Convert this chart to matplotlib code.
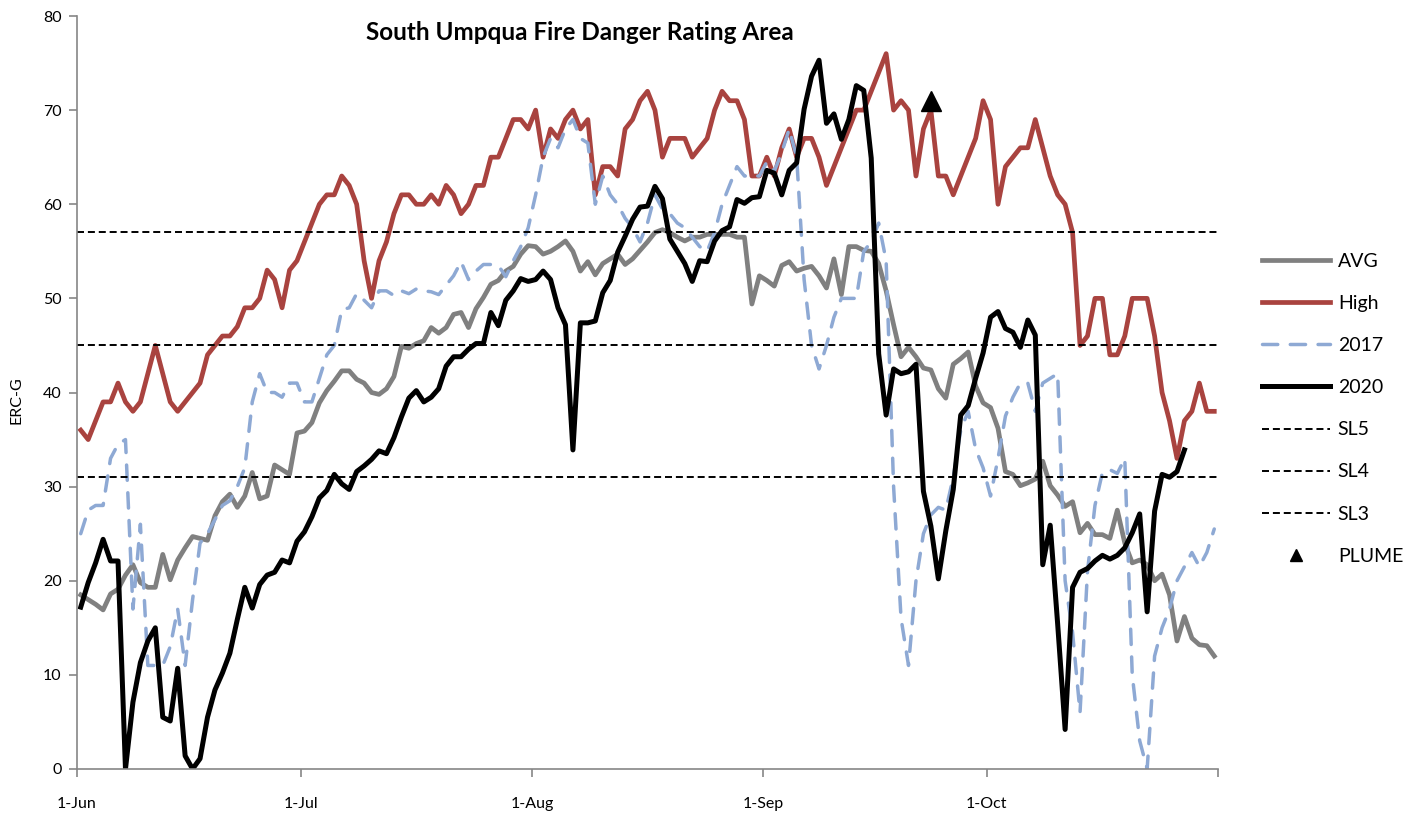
import numpy as np
import pandas as pd
import matplotlib
matplotlib.use("Agg")
import matplotlib.pyplot as plt

plt.rcParams['font.family'] = ['Lato', 'DejaVu Sans']

# daily ERC-G values, 1-Jun onward
avg = [18.5, 18, 17.5, 16.9, 18.6, 19.1, 20.6, 21.7, 19.8, 19.3,
       19.3, 22.8, 20.1, 22.2, 23.5, 24.7, 24.5, 24.3, 26.9, 28.4,
       29.2, 27.8, 29, 31.5, 28.7, 29, 32.3, 31.8, 31.3, 35.7,
       35.9, 36.8, 38.9, 40.2, 41.2, 42.3, 42.3, 41.4, 41, 40,
       39.8, 40.4, 41.7, 44.9, 44.7, 45.2, 45.5, 46.9, 46.3, 46.9,
       48.3, 48.5, 46.9, 48.9, 50.1, 51.5, 51.9, 52.9, 53.4, 54.7,
       55.6, 55.5, 54.7, 55, 55.5, 56.1, 55, 52.9, 53.9, 52.5,
       53.7, 54.2, 54.7, 53.6, 54.2, 55.1, 56, 57, 57.3, 57,
       56.5, 56.1, 56.5, 56.5, 56.8, 56.8, 56.8, 56.8, 56.5, 56.5,
       49.4, 52.4, 51.9, 51.3, 53.5, 53.9, 52.9, 53.2, 53.4, 52.4,
       51.1, 54.2, 50.4, 55.5, 55.5, 55.1, 55, 53.7, 50.8, 47.2,
       43.8, 44.8, 43.8, 42.6, 42.4, 40.4, 39.4, 43, 43.6, 44.3,
       40.7, 38.9, 38.4, 36.2, 31.6, 31.3, 30.1, 30.4, 30.8, 32.7,
       30.1, 29.1, 27.9, 28.4, 25.1, 26.1, 24.9, 24.9, 24.5, 27.5,
       24, 21.9, 22.2, 21.7, 20, 20.7, 18.5, 13.6, 16.2, 13.9,
       13.2, 13.1, 12]

high = [36, 35, 37, 39, 39, 41, 39, 38, 39, 42,
        45, 42, 39, 38, 39, 40, 41, 44, 45, 46,
        46, 47, 49, 49, 50, 53, 52, 49, 53, 54,
        56, 58, 60, 61, 61, 63, 62, 60, 54, 50,
        54, 56, 59, 61, 61, 60, 60, 61, 60, 62,
        61, 59, 60, 62, 62, 65, 65, 67, 69, 69,
        68, 70, 65, 68, 67, 69, 70, 68, 69, 61,
        64, 64, 63, 68, 69, 71, 72, 70, 65, 67,
        67, 67, 65, 66, 67, 70, 72, 71, 71, 69,
        63, 63, 65, 63, 66, 68, 65, 67, 67, 65,
        62, 64, 66, 68, 70, 70, 72, 74, 76, 70,
        71, 70, 63, 68, 70, 63, 63, 61, 63, 65,
        67, 71, 69, 60, 64, 65, 66, 66, 69, 66,
        63, 61, 60, 57, 45, 46, 50, 50, 44, 44,
        46, 50, 50, 50, 46, 40, 37, 33, 37, 38,
        41, 38, 38]

y2017 = [25, 27.5, 28, 28, 33, 34.5, 35, 17, 26, 11,
         11, 11, 13, 17, 11, 18, 24, 25, 26.5, 28,
         28.5, 30, 32, 39, 42, 40, 40, 39.5, 41, 41,
         39, 39, 41.5, 44, 45, 48.8, 49, 50.5, 49.8, 49,
         50.8, 50.8, 50.3, 50.8, 50.5, 51, 50.8, 50.7, 50.4, 51.4,
         52.4, 53.9, 52, 52.9, 53.6, 53.6, 53.5, 52.3, 54, 55.5,
         57.5, 61, 65, 67, 66, 68, 69, 67, 66.5, 60,
         63, 61, 60, 58.5, 57.5, 56, 58, 61, 59.5, 59,
         58, 57.5, 56.5, 55.5, 55, 57, 60, 62, 64, 63,
         63, 63, 64.5, 63.5, 65.5, 68, 65, 52, 45, 42.5,
         45, 48, 50, 50, 50, 55, 56, 58, 54, 30,
         16, 11, 20, 25, 27, 27.8, 27.5, 31, 36, 38,
         34, 32, 29, 33, 37.5, 39.5, 41, 41, 38, 41,
         41.5, 42, 20, 14.5, 6, 21, 28, 31.5, 31.8, 31.4,
         33, 10, 3, 0, 12, 15, 17, 20, 21.5, 23,
         21.5, 23, 25.5]

y2020 = [17.2, 19.8, 21.9, 24.4, 22.1, 22.1, 0, 7.1, 11.3, 13.6,
         15, 5.5, 5.1, 10.7, 1.4, 0, 1.1, 5.5, 8.4, 10.2,
         12.3, 15.9, 19.3, 17.1, 19.6, 20.6, 20.9, 22.2, 21.9, 24.2,
         25.2, 26.8, 28.8, 29.6, 31.3, 30.3, 29.7, 31.6, 32.2, 32.9,
         33.8, 33.5, 35.2, 37.4, 39.4, 40.2, 39, 39.5, 40.4, 42.8,
         43.8, 43.8, 44.6, 45.2, 45.2, 48.5, 47.1, 49.8, 50.8, 52.1,
         51.8, 52, 52.9, 52, 49, 47.2, 33.9, 47.4, 47.4, 47.6,
         50.6, 51.9, 54.9, 56.6, 58.4, 59.7, 59.8, 61.9, 60.6, 56.3,
         55, 53.7, 51.8, 54, 53.9, 56.1, 57.2, 57.6, 60.5, 60.1,
         60.7, 60.8, 63.6, 63.3, 61, 63.6, 64.4, 70.1, 73.6, 75.3,
         68.6, 69.6, 66.9, 69, 72.6, 72.1, 64.9, 44.1, 37.6, 42.5,
         42, 42.2, 43, 29.5, 25.8, 20.2, 25.3, 29.7, 37.6, 38.6,
         41.5, 44.2, 48, 48.6, 46.8, 46.4, 44.8, 47.7, 46.1, 21.7,
         25.9, 15.4, 4.2, 19.3, 20.9, 21.3, 22.1, 22.7, 22.3, 22.7,
         23.5, 25.1, 27.1, 16.7, 27.4, 31.3, 31, 31.6, 33.9]

staffing = {'SL5': 57, 'SL4': 45, 'SL3': 31}
plume_date = '2020-09-23'
plume_val = 71
month_labels = ['1-Jun', '1-Jul', '1-Aug', '1-Sep', '1-Oct', '']

half_day = pd.Timedelta(hours=12)
dates = (pd.date_range('2020-06-01', periods=len(avg), freq='D') + half_day).to_numpy()
dates20 = (pd.date_range('2020-06-01', periods=len(y2020), freq='D') + half_day).to_numpy()

fig = plt.figure(figsize=(14.14, 8.23), dpi=100)
ax = fig.add_axes([77/1414, 1-769/823, (1218-77)/1414, (769-16)/823])

ax.plot(dates, avg, color='#808080', lw=3.4, label='AVG', solid_joinstyle='round')
ax.plot(dates, high, color='#A9433F', lw=3.4, label='High', solid_joinstyle='round')
ax.plot(dates, y2017, color='#8EA9D4', lw=2.5, label='2017',
        dashes=(4.4, 3.6), dash_capstyle='round')
ax.plot(dates20, y2020, color='black', lw=3.6, label='2020', solid_joinstyle='round')
for name, lvl in staffing.items():
    ax.axhline(lvl, color='black', lw=1.4, dashes=(3.6, 2.0), label=name)
ax.plot([np.datetime64(plume_date) + np.timedelta64(12, 'h')], [plume_val],
        ls='none', marker='^', ms=14, color='black', label='PLUME')

ax.set_ylim(0, 80)
ax.set_yticks(range(0, 81, 10))
ax.set_xlim(np.datetime64('2020-06-01'), np.datetime64('2020-11-01'))
months = pd.date_range('2020-06-01', '2020-11-01', freq='MS').to_numpy()
ax.set_xticks(months, month_labels)

for s in ['top', 'right']:
    ax.spines[s].set_visible(False)
for s in ['left', 'bottom']:
    ax.spines[s].set_color('#868686')
    ax.spines[s].set_linewidth(1.2)
ax.tick_params(axis='both', colors='#868686', labelcolor='black', width=1.2,
               length=6, labelsize=11.5)
ax.tick_params(axis='x', pad=14)
ax.tick_params(axis='y', pad=5)

fig.text(16/1414, 1-400/823, 'ERC-G', rotation=90, ha='center', va='center', fontsize=11.5)
fig.text(580/1414, 1-32/823, 'South Umpqua Fire Danger Rating Area',
         ha='center', va='center', fontsize=17.5, fontweight='bold')

fig.legend(loc='upper left', bbox_to_anchor=(1262/1414, 1-253/823),
           frameon=False, borderpad=0, borderaxespad=0, fontsize=14,
           handlelength=3.5, handletextpad=0.4, labelspacing=1.29,
           markerscale=0.6, numpoints=1)

fig.savefig('out.png', dpi=100)
